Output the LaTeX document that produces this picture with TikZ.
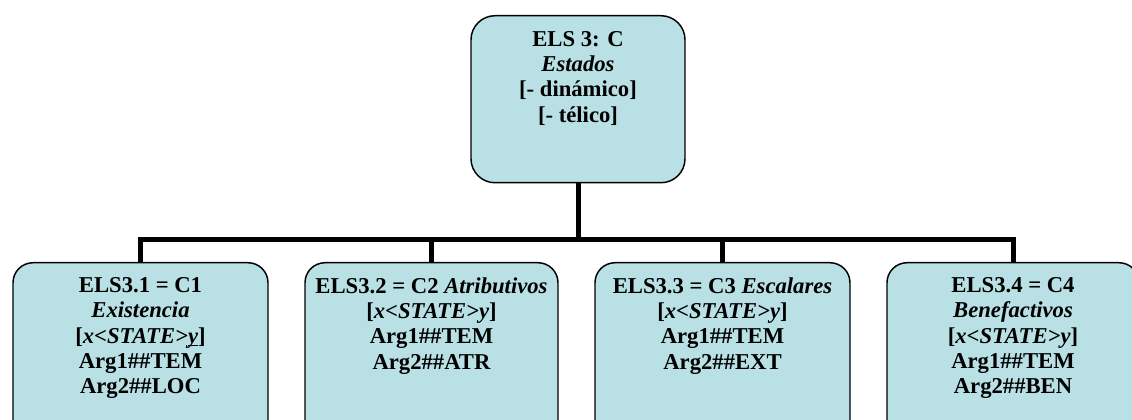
\documentclass[tikz,border=0pt]{standalone}
\usepackage{fontspec}
\setmainfont{Liberation Serif}
\usetikzlibrary{positioning}
\definecolor{stateblue}{RGB}{185,224,228}
\tikzset{class box/.style={draw=black, line width=1.1pt, fill=stateblue, rounded corners=15pt, anchor=north, minimum height=138.75pt}}
\tikzset{class text/.style={font=\fontsize{17}{19}\selectfont\bfseries, align=center, inner sep=0pt}}
\tikzset{link/.style={draw=black, line width=3.75pt}}

\begin{document}
\begin{tikzpicture}[x=0.75pt, y=-0.75pt]
\useasboundingbox (0,0) rectangle (1132,420);
\clip (0,0) rectangle (1132,420);
% top class
\node[class box, minimum width=160.5pt, minimum height=125.25pt, rounded corners=18pt] (els3) at (578,15) {};
\node[class text, below=12pt of els3.north] (els3 text) {ELS 3: C\\ \textit{Estados}\\ {[}- dinámico{]}\\ {[}- télico{]}};
% subclasses
\node[class box, minimum width=191.25pt] (c1) at (140.5,262) {};
\node[class box, minimum width=189.75pt] (c2) at (431.5,262) {};
\node[class box, minimum width=191.25pt] (c3) at (722.5,262) {};
\node[class box, minimum width=189pt] (c4) at (1013,262) {};
\node[class text, below=11.5pt of c1.north] (c1 text) {ELS3.1 = C1\\ \textit{Existencia}\\ {[}\textit{x<STATE>\underline{\smash{y}}}{]}\\ Arg1\#\#TEM\\ Arg2\#\#LOC};
\node[class text, below=11.5pt of c2.north] (c2 text) {ELS3.2 = C2 \textit{Atributivos}\\ {[}\textit{x<STATE>y}{]}\\ Arg1\#\#TEM\\ Arg2\#\#ATR};
\node[class text, below=11.5pt of c3.north] (c3 text) {ELS3.3 = C3 \textit{Escalares}\\ {[}\textit{x<STATE>y}{]}\\ Arg1\#\#TEM\\ Arg2\#\#EXT};
\node[class text, below=11.5pt of c4.north] (c4 text) {ELS3.4 = C4\\ \textit{Benefactivos}\\ {[}\textit{x<STATE>y}{]}\\ Arg1\#\#TEM\\ Arg2\#\#BEN};
% tree lines
\coordinate (bar) at (578,239.5);
\draw[link] (els3.south) -- (bar);
\draw[link] (c1.north) |- (bar) -| (c4.north);
\draw[link] (c2.north) -- (c2.north |- bar);
\draw[link] (c3.north) -- (c3.north |- bar);
\end{tikzpicture}
\end{document}
